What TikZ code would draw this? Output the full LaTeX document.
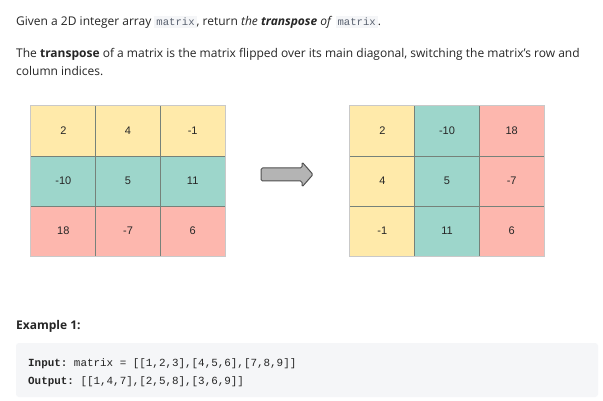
\documentclass[tikz,border=0pt]{standalone}
\usepackage{fontspec}
\setmainfont{Open Sans}
\setmonofont{Liberation Mono}
\newfontfamily\numfont{Liberation Sans}
\definecolor{txt}{HTML}{262626}
\definecolor{codebg}{HTML}{F5F6F8}
\definecolor{codefg}{HTML}{5A6270}
\definecolor{cyel}{HTML}{FFEAAA}
\definecolor{cteal}{HTML}{9DD6CB}
\definecolor{cpink}{HTML}{FDB7AE}
\definecolor{gridline}{HTML}{76827A}
\definecolor{gridouter}{HTML}{C9C9C9}
\definecolor{arrowfill}{HTML}{B4B4B4}
\definecolor{arrowdraw}{HTML}{505050}
\newcommand\icode[1]{{\setlength\fboxsep{2pt}\colorbox{codebg}{\textcolor{codefg}{\ttfamily\fontsize{10.6}{12}\selectfont #1}}}}
\begin{document}
\begin{tikzpicture}[x=1pt,y=-1pt,
  bodytext/.style={anchor=base west, inner sep=0pt, text=txt, font=\fontsize{12}{14}\selectfont},
  cell/.style={minimum width=64.67pt, minimum height=50pt, inner sep=0pt, draw=none, font=\numfont\fontsize{11}{13}\selectfont, text=txt},
  codetext/.style={anchor=base west, inner sep=0pt, text=txt, font=\ttfamily\fontsize{10.9}{13}\selectfont}]
\useasboundingbox (0,0) rectangle (603,401);
\fill[white] (0,0) rectangle (603,401);
% paragraph text
\node[bodytext] (l1) at (16,26) {Given a 2D integer array \icode{matrix}, return \textit{the \textbf{transpose} of} \icode{matrix}.};
\node[bodytext] (l2) at (16,58) {The \textbf{transpose} of a matrix is the matrix flipped over its main diagonal, switching the matrix's row and};
\node[bodytext] (l3) at (16,76) {column indices.};
% left grid
\foreach \r/\colr [count=\i from 0] in {{2,4,-1}/cyel,{-10,5,11}/cteal,{18,-7,6}/cpink}{
  \foreach \v [count=\j from 0] in \r {
    \node[cell, fill=\colr] (L\i\j) at (31+64.67*\j+32.33, 106+50*\i+25) {\v};
  }
}
% right grid
\foreach \v/\i/\j/\colr in {2/0/0/cyel,-10/0/1/cteal,18/0/2/cpink,4/1/0/cyel,5/1/1/cteal,-7/1/2/cpink,-1/2/0/cyel,11/2/1/cteal,6/2/2/cpink}{
  \node[cell, fill=\colr] (R\i\j) at (350+64.67*\j+32.33, 106+50*\i+25) {\v};
}
% inner grid lines
\draw[gridline, line width=0.8pt] (L00.north east) -- (L20.south east);
\draw[gridline, line width=0.8pt] (L01.north east) -- (L21.south east);
\draw[gridline, line width=0.8pt] (L00.south west) -- (L02.south east);
\draw[gridline, line width=0.8pt] (L10.south west) -- (L12.south east);
\draw[gridouter, line width=0.8pt] (L00.north west) rectangle (L22.south east);
\draw[gridline, line width=0.8pt] (R00.north east) -- (R20.south east);
\draw[gridline, line width=0.8pt] (R01.north east) -- (R21.south east);
\draw[gridline, line width=0.8pt] (R00.south west) -- (R02.south east);
\draw[gridline, line width=0.8pt] (R10.south west) -- (R12.south east);
\draw[gridouter, line width=0.8pt] (R00.north west) rectangle (R22.south east);
% arrow
\draw[arrowdraw, fill=arrowfill, line width=1pt, rounded corners=1.5pt, line join=round]
  (261,168) -- (302,168) -- (302,162) -- (313,174.5) -- (302,187) -- (302,181) -- (261,181) -- cycle;
% example
\node[bodytext, font=\bfseries\fontsize{12}{14}\selectfont] (ex) at (16,329) {Example 1:};
\fill[codebg, rounded corners=3pt] (16,343) rectangle (598,397);
\node[codetext] (in) at (28,366) {\textbf{Input:} matrix = [[1,2,3],[4,5,6],[7,8,9]]};
\node[codetext] (out) at (28,384) {\textbf{Output:} [[1,4,7],[2,5,8],[3,6,9]]};
\end{tikzpicture}
\end{document}
